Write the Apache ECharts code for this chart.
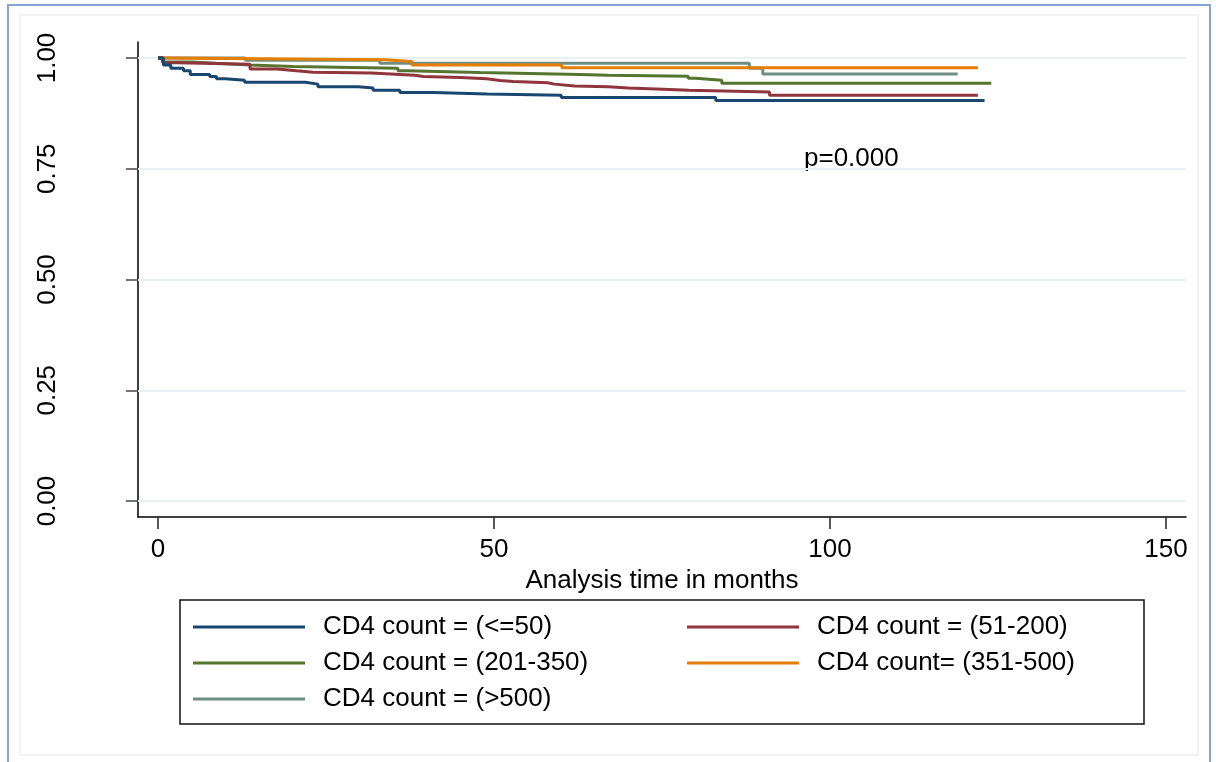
<!DOCTYPE html>
<html>
<head>
<meta charset="utf-8">
<title>KM CD4</title>
<script src="https://cdn.jsdelivr.net/npm/echarts@6/dist/echarts.min.js"></script>
<style>
html,body{margin:0;padding:0;background:#fff;}
#chart{width:1216px;height:762px;}
</style>
</head>
<body>
<div id="chart"></div>
<script>
// survival data (time in months, survival)
var names = ['CD4 count = (<=50)', 'CD4 count = (51-200)', 'CD4 count = (201-350)', 'CD4 count= (351-500)', 'CD4 count = (>500)'];
var colors = ['#1a476f', '#90353b', '#55752f', '#e37e00', '#6e8e84'];

var t50 = [0, 0.8, 1.9, 3.8, 4.8, 7.7, 8.7, 10, 12.9, 21.9, 23.8, 29.8, 32, 36, 41, 49, 60, 83, 123];
var s50 = [1, 0.984, 0.977, 0.971, 0.963, 0.958, 0.953, 0.950, 0.945, 0.941, 0.935, 0.932, 0.927, 0.922, 0.919, 0.916, 0.911, 0.904, 0.904];

var t200 = [0, 0.7, 2.8, 13.7, 17.7, 20.6, 23.1, 31.8, 36, 38.2, 39.5, 45, 48.9, 50.9, 52.9, 58, 59, 62, 67, 70, 74.2, 79, 91, 122];
var s200 = [1, 0.989, 0.986, 0.975, 0.971, 0.968, 0.966, 0.963, 0.961, 0.958, 0.956, 0.953, 0.949, 0.947, 0.944, 0.941, 0.937, 0.935, 0.932, 0.930, 0.927, 0.923, 0.916, 0.916];

var t350 = [0, 0.7, 5, 8.7, 13.7, 20.1, 35.7, 37.2, 40, 47.9, 62.8, 67, 78.9, 80, 83.9, 124];
var s350 = [1, 0.991, 0.988, 0.984, 0.981, 0.977, 0.971, 0.970, 0.967, 0.963, 0.961, 0.959, 0.954, 0.950, 0.943, 0.943];

var t500 = [0, 1, 33.8, 37.8, 60.1, 122];
var s500 = [1, 0.996, 0.992, 0.984, 0.978, 0.978];

var tOver = [0, 13, 33, 88, 90, 119];
var sOver = [1, 0.995, 0.988, 0.977, 0.964, 0.964];

var xTicks = [0, 50, 100, 150];
var yTicks = [0, 0.25, 0.5, 0.75, 1];

function pairs(t, s) {
	var out = [];
	for (var i = 0; i < t.length; i++) out.push([t[i], s[i]]);
	return out;
}
var curves = [pairs(t50, s50), pairs(t200, s200), pairs(t350, s350), pairs(t500, s500), pairs(tOver, sOver)];

var font = 'Liberation Sans, Arial, sans-serif';

var series = [];
for (var i = 0; i < names.length; i++) {
	series.push({
		name: names[i],
		type: 'line',
		step: 'end',
		symbol: 'none',
		data: curves[i],
		color: colors[i],
		lineStyle: {width: 3, color: colors[i]},
		z: 10 - i
	});
}
// faint horizontal grid lines at the y ticks
var gridLines = [];
for (var i = 0; i < yTicks.length; i++) gridLines.push({yAxis: yTicks[i]});
series[0].markLine = {
	silent: true, symbol: 'none', label: {show: false}, z: 1,
	lineStyle: {color: '#e9f0f2', width: 2, type: 'solid'},
	data: gridLines
};

// legend items: left column gets extra right padding so the right column lines up
var legendData = [];
for (var i = 0; i < names.length; i++) {
	legendData.push({
		name: names[i],
		textStyle: {padding: i % 2 === 0 ? [0, 41, 0, 13] : [0, 0, 0, 13]}
	});
}

var myChart = echarts.init(document.getElementById('chart'));
var option = {
	backgroundColor: '#fff',
	animation: false,
	// axis lines sit a little outside the 0..150 / 0..1 data range
	grid: {left: 138, right: 30, top: 42, bottom: 245},
	xAxis: {
		type: 'value',
		min: -2.976, max: 152.976,
		axisLine: {show: true, onZero: false, lineStyle: {color: '#000', width: 1.5}},
		axisTick: {show: true, length: 12, customValues: xTicks, lineStyle: {color: '#222', width: 1.5}},
		axisLabel: {color: '#000', fontSize: 26, fontFamily: font, margin: 20, customValues: xTicks},
		splitLine: {show: false},
		name: 'Analysis time in months',
		nameLocation: 'middle',
		nameGap: 29,
		nameTextStyle: {color: '#000', fontSize: 26, fontFamily: font}
	},
	yAxis: {
		type: 'value',
		min: -0.0361, max: 1.0361,
		axisLine: {show: true, onZero: false, lineStyle: {color: '#000', width: 1.5}},
		axisTick: {show: true, length: 12, customValues: yTicks, lineStyle: {color: '#444', width: 1.5}},
		axisLabel: {
			color: '#000', fontSize: 26, fontFamily: font, rotate: 90, margin: 77, customValues: yTicks,
			formatter: function (v) { return v.toFixed(2); }
		},
		splitLine: {show: false}
	},
	legend: {
		left: 180, top: 600, width: 1000,
		orient: 'horizontal',
		padding: [14, 14, 12, 13],
		itemGap: 10,
		icon: 'rect',
		itemWidth: 112, itemHeight: 3,
		borderColor: '#111', borderWidth: 1.5,
		textStyle: {color: '#000', fontSize: 26, fontFamily: font, width: 313, lineHeight: 21},
		data: legendData
	},
	graphic: [
		{type: 'rect', shape: {x: 8, y: 5, width: 1202, height: 765}, style: {fill: 'none', stroke: '#86a4d4', lineWidth: 2}, silent: true},
		{type: 'rect', shape: {x: 20, y: 15, width: 1178, height: 740}, style: {fill: 'none', stroke: '#eeeeee', lineWidth: 1.5}, silent: true},
		{type: 'text', left: 804, top: 146, style: {text: 'p=0.000', fill: '#000', font: '26px ' + font}, silent: true}
	],
	series: series
};
myChart.setOption(option);
</script>
</body>
</html>
